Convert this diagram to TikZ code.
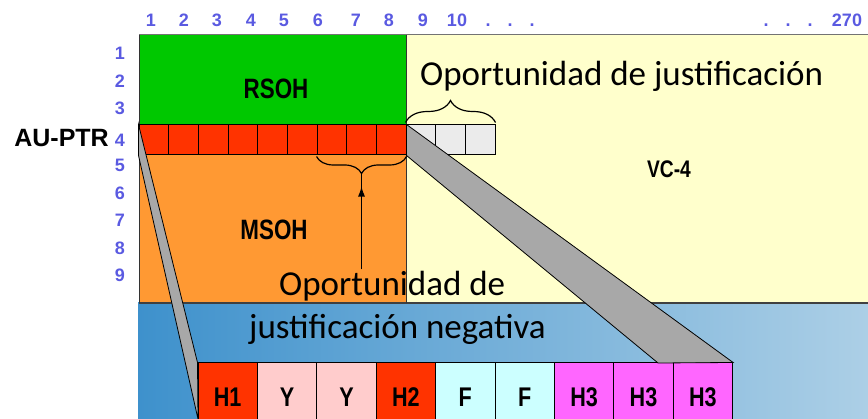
\documentclass[tikz,border=0pt]{standalone}
\usepackage{fontspec}
\setmainfont{Carlito}
\newfontfamily\arialf{Liberation Sans}
\usetikzlibrary{decorations.pathreplacing,decorations.markings,arrows.meta}

\definecolor{rsohgreen}{RGB}{0,200,0}
\definecolor{ptrred}{RGB}{255,51,0}
\definecolor{msohorange}{RGB}{255,153,51}
\definecolor{vcyellow}{RGB}{255,255,204}
\definecolor{justgray}{RGB}{235,235,235}
\definecolor{bandgray}{RGB}{168,168,168}
\definecolor{ypink}{RGB}{255,204,204}
\definecolor{fcyan}{RGB}{204,255,255}
\definecolor{hmagenta}{RGB}{255,102,255}
\definecolor{numblue}{RGB}{90,90,225}
\definecolor{bluedark}{RGB}{62,145,204}
\definecolor{bluelight}{RGB}{172,207,230}
\newcommand{\squeezed}[1]{\scalebox{0.8}[1]{#1}}

\begin{document}
\begin{tikzpicture}[x=1pt, y=-1pt]
\tikzstyle{hdr} = [font=\arialf\bfseries\fontsize{18}{18}\selectfont, text=numblue, inner sep=0pt];
\tikzstyle{lbl} = [font=\arialf\bfseries\fontsize{28}{28}\selectfont, inner sep=0pt];
\tikzstyle{big} = [font=\fontsize{35}{35}\selectfont, inner sep=0pt];
\tikzstyle{cell} = [draw=black, line width=1pt, minimum width=29.67pt, minimum height=30pt, inner sep=0pt];
\tikzstyle{hcell} = [cell, minimum width=59.4pt, minimum height=68pt, font=\arialf\bfseries\fontsize{27}{27}\selectfont];
\tikzstyle{band} = [fill=bandgray, draw=black, line width=0.8pt];
\tikzstyle{brc} = [decorate, line width=1.2pt];

\useasboundingbox (0,0) rectangle (868,419);

\shade[left color=bluedark, right color=bluelight] (138,303) rectangle (868,419);
\fill[vcyellow] (406,35) rectangle (868,303);
\fill[rsohgreen] (139,35) rectangle (406,125);
\fill[msohorange] (139,155) rectangle (406,303);
\draw[black!55, line width=1pt] (139,35) -- (868,35);
\draw[black!75, line width=1.5pt] (139,303) -- (868,303);
\draw[black!80, line width=1pt] (139,35) -- (139,303);
\draw[black!80, line width=1pt] (406,35) -- (406,303);

\foreach \i in {1,...,9}
    \node[cell, fill=ptrred] (p\i) at ({139+29.67*(\i-0.5)}, 140) {};
\foreach \i in {1,2,3}
    \node[cell, fill=justgray] (j\i) at ({406+29.67*(\i-0.5)}, 140) {};

\foreach \i/\t/\c in {1/H1/ptrred, 2/Y/ypink, 3/Y/ypink, 4/H2/ptrred, 5/F/fcyan,
                      6/F/fcyan, 7/H3/hmagenta, 8/H3/hmagenta, 9/H3/hmagenta}
    \node[hcell, fill=\c] (h\i) at ({198+59.4*(\i-0.5)}, 397) {\squeezed{\t}};

\draw[band] (p1.north west) -- (h1.north west) -- (198,419) -- (p1.south west) -- cycle;
\draw[band] (p9.north east) -- (h9.north east) -- (658,363) -- (p9.south east) -- cycle;

\draw[brc, decoration={brace, amplitude=22pt, raise=2pt}] (j1.north west) -- (j3.north east);
\draw[brc, decoration={brace, amplitude=17pt, raise=1pt}] (p9.south east) -- (p7.south west);
\coordinate (negtip) at (361.5,173);

\node[big, anchor=base west] (oportjust) at (420,86) {Oportunidad de justificación};
\node[big, anchor=base west] (oportneg) at (279,296) {Oportunidad de};
\node[big, anchor=base west] (negjust) at (249,339) {justificación negativa};

\draw[line width=1.2pt, postaction={decorate},
      decoration={markings, mark=at position 0.86 with {\arrow{Latex[length=10pt,width=7pt]}}}]
      ([yshift=2pt]oportneg.north -| negtip) -- (negtip);

\node[lbl, anchor=base] (rsoh) at (276,99) {\squeezed{RSOH}};
\node[lbl, anchor=base] (msoh) at (274,240) {\squeezed{MSOH}};
\node[lbl, font=\arialf\bfseries\fontsize{24}{24}\selectfont, anchor=base] (vc4) at (669,178) {\squeezed{VC-4}};
\node[lbl, font=\arialf\bfseries\fontsize{25}{25}\selectfont, anchor=base east] (auptr) at (109,147) {AU-PTR};

\foreach \n/\x in {1/151, 2/184, 3/217, 4/251, 5/284, 6/318, 7/356, 8/389, 9/423, 10/457,
                   ./488, ./510, ./532, ./766, ./788, ./810, 270/847}
    \node[hdr, anchor=base] at (\x,27) {\n};
\foreach \n/\y in {1/53, 2/81, 3/108, 4/140, 5/165, 6/193, 7/220, 8/248, 9/275}
    \node[hdr] at (120,\y) {\n};
\end{tikzpicture}
\end{document}
